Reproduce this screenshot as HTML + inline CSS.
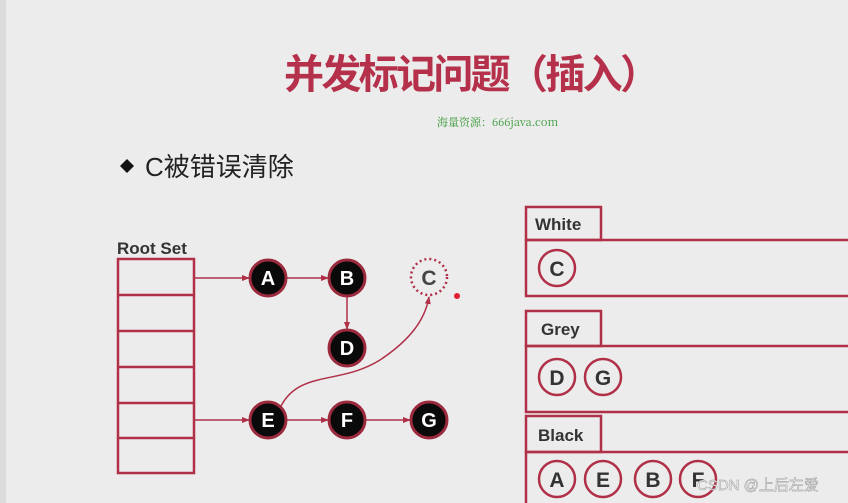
<!DOCTYPE html>
<html><head><meta charset="utf-8"><style>
body{margin:0;width:848px;height:503px;overflow:hidden;background:#ececec;font-family:"Liberation Sans","Noto Sans CJK SC",sans-serif;}
</style></head><body>
<svg width="848" height="503" viewBox="0 0 848 503" xmlns="http://www.w3.org/2000/svg" style="position:absolute;left:0;top:0">
<defs><marker id="ar" markerWidth="8" markerHeight="8" refX="7" refY="4" orient="auto" markerUnits="userSpaceOnUse"><path d="M0,1 L8,4 L0,7 Z" fill="#b03048"/></marker></defs>
<rect x="0" y="0" width="6" height="503" fill="#dcdcdc"/>
<text x="472" y="88" text-anchor="middle" font-size="40" font-weight="bold" fill="#b5304a" font-family="Noto Sans CJK SC, sans-serif" textLength="376">并发标记问题（插入）</text>
<text x="437" y="126" font-size="11" fill="#3a9a3a" font-family="Noto Serif CJK SC, serif">海量资源：666java.com</text>
<path d="M120,166 L127,159 L134,166 L127,173 Z" fill="#111"/>
<text x="145" y="176" font-size="26" fill="#222" font-family="Liberation Sans, Noto Sans CJK SC, sans-serif">C被错误清除</text>
<text x="117" y="254" font-size="17" font-weight="bold" fill="#333">Root Set</text>
<g fill="none" stroke="#b03048" stroke-width="2.5">
<rect x="118" y="259" width="76" height="214"/>
<line x1="118" y1="295" x2="194" y2="295"/><line x1="118" y1="331" x2="194" y2="331"/>
<line x1="118" y1="367" x2="194" y2="367"/><line x1="118" y1="403" x2="194" y2="403"/>
<line x1="118" y1="438" x2="194" y2="438"/>
</g>
<g stroke="#b03048" stroke-width="1.5" fill="none" marker-end="url(#ar)">
<line x1="194" y1="278" x2="249" y2="278"/><line x1="287" y1="278" x2="328" y2="278"/>
<line x1="347" y1="297" x2="347" y2="329"/>
<line x1="194" y1="420" x2="249" y2="420"/><line x1="287" y1="420" x2="328" y2="420"/>
<line x1="366" y1="420" x2="410" y2="420"/>
<path d="M281,406 C300,370 340,385 380,360 C410,340 425,320 429,297"/>
</g>
<g stroke="#9a2a3c" stroke-width="3" fill="#0a0a0a">
<circle cx="268" cy="278" r="18"/><circle cx="347" cy="278" r="18"/><circle cx="347" cy="348" r="18"/>
<circle cx="268" cy="420" r="18"/><circle cx="347" cy="420" r="18"/><circle cx="429" cy="420" r="18"/>
</g>
<circle cx="429" cy="277" r="18" fill="none" stroke="#b03048" stroke-width="2.5" stroke-dasharray="2 3"/>
<circle cx="457" cy="296" r="3" fill="#e02030"/>
<g font-size="20" font-weight="bold" fill="#fff" text-anchor="middle">
<text x="268" y="285">A</text><text x="347" y="285">B</text><text x="347" y="355">D</text>
<text x="268" y="427">E</text><text x="347" y="427">F</text><text x="429" y="427">G</text>
</g>
<text x="429" y="285" font-size="21" font-weight="bold" fill="#444" text-anchor="middle">C</text>
<g fill="none" stroke="#b03048" stroke-width="2.5">
<rect x="526" y="207" width="75" height="33"/><rect x="526" y="240" width="330" height="56"/>
<rect x="526" y="311" width="75" height="35"/><rect x="526" y="346" width="330" height="66"/>
<rect x="526" y="416" width="75" height="36"/><rect x="526" y="452" width="330" height="60"/>
<circle cx="557" cy="268" r="18"/><circle cx="557" cy="377" r="18"/><circle cx="603" cy="377" r="18"/>
<circle cx="557" cy="479" r="18"/><circle cx="603" cy="479" r="18"/><circle cx="653" cy="479" r="18"/><circle cx="698" cy="479" r="18"/>
</g>
<g font-size="17" font-weight="bold" fill="#333">
<text x="535" y="230">White</text><text x="541" y="335">Grey</text><text x="538" y="441">Black</text>
</g>
<g font-size="21" font-weight="bold" fill="#333" text-anchor="middle">
<text x="557" y="276">C</text><text x="557" y="385">D</text><text x="603" y="385">G</text>
<text x="557" y="487">A</text><text x="603" y="487">E</text><text x="653" y="487">B</text><text x="698" y="487">F</text>
</g>
<text x="697" y="490" font-size="15" fill="#f4f4f4" stroke="#888" stroke-width="0.4" font-family="Liberation Sans, Noto Sans CJK SC, sans-serif">CSDN @上后左爱</text>
</svg>
</body></html>
